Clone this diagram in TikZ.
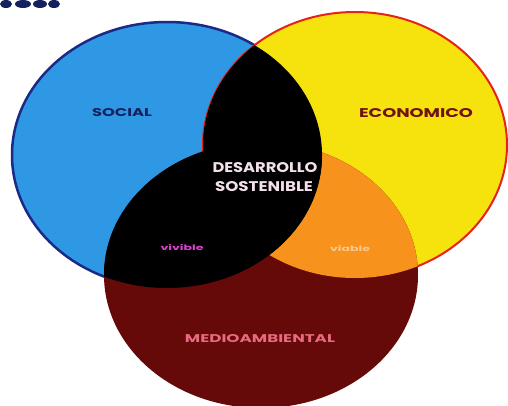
\documentclass[tikz,border=0pt]{standalone}
\usepackage{fontspec}
\setmainfont{Poppins}
\definecolor{cblue}{HTML}{2E98E4}
\definecolor{cblueline}{HTML}{1B2A86}
\definecolor{cyellow}{HTML}{F6E20C}
\definecolor{cyellowline}{HTML}{E6231B}
\definecolor{cred}{HTML}{660909}
\definecolor{corange}{HTML}{F7921C}
\definecolor{cnavy}{HTML}{15205E}
\definecolor{cbrown}{HTML}{6E1212}
\definecolor{cwhite}{HTML}{F2E0EA}
\definecolor{cmagenta}{HTML}{E040D0}
\definecolor{cpale}{HTML}{F8C890}
\definecolor{cpink}{HTML}{E86A80}
\tikzset{
  lbl/.style={inner sep=0pt, font=\bfseries},
}
\begin{document}
\begin{tikzpicture}[x=1pt,y=-1pt]
\useasboundingbox (0,0) rectangle (508,405);
\fill[white] (0,0) rectangle (508,405);
% cropped header marks
\foreach \cx/\rx in {6/6,23/8,40/7,54/6}
  \fill[cnavy] (\cx,4) ellipse [x radius=\rx, y radius=4];
% circles
\filldraw[fill=cblue, draw=cblueline, line width=2.5pt] (167,155) ellipse [x radius=155, y radius=133];
\filldraw[fill=cyellow, draw=cyellowline, line width=2pt] (355,145) ellipse [x radius=152, y radius=133];
\fill[cred] (261,275) ellipse [x radius=157, y radius=133];
% yellow & red -> orange
\begin{scope}
  \clip (355,145) ellipse [x radius=152, y radius=133];
  \fill[corange] (261,275) ellipse [x radius=157, y radius=133];
\end{scope}
% blue with others -> black
\begin{scope}
  \clip (167,155) ellipse [x radius=155, y radius=133];
  \fill[black] (355,145) ellipse [x radius=152, y radius=133];
  \fill[black] (261,275) ellipse [x radius=157, y radius=133];
\end{scope}
% labels
\node[lbl, text=cnavy] (social) at (122,113) {\resizebox{60pt}{8pt}{SOCIAL}};
\node[lbl, text=cbrown] (eco) at (416,113) {\resizebox{114pt}{9pt}{ECONOMICO}};
\node[lbl, text=cwhite] (des1) at (265,168) {\resizebox{105pt}{10pt}{DESARROLLO}};
\node[lbl, text=cwhite] (des2) at (264,187) {\resizebox{98pt}{10pt}{SOSTENIBLE}};
\node[lbl, text=cmagenta] (vivible) at (182,248) {\resizebox{43pt}{6pt}{vivible}};
\node[lbl, text=cpale] (viable) at (350,249) {\resizebox{40pt}{6pt}{viable}};
\node[lbl, text=cpink] (medio) at (260,339) {\resizebox{150pt}{8pt}{MEDIOAMBIENTAL}};
\end{tikzpicture}
\end{document}
